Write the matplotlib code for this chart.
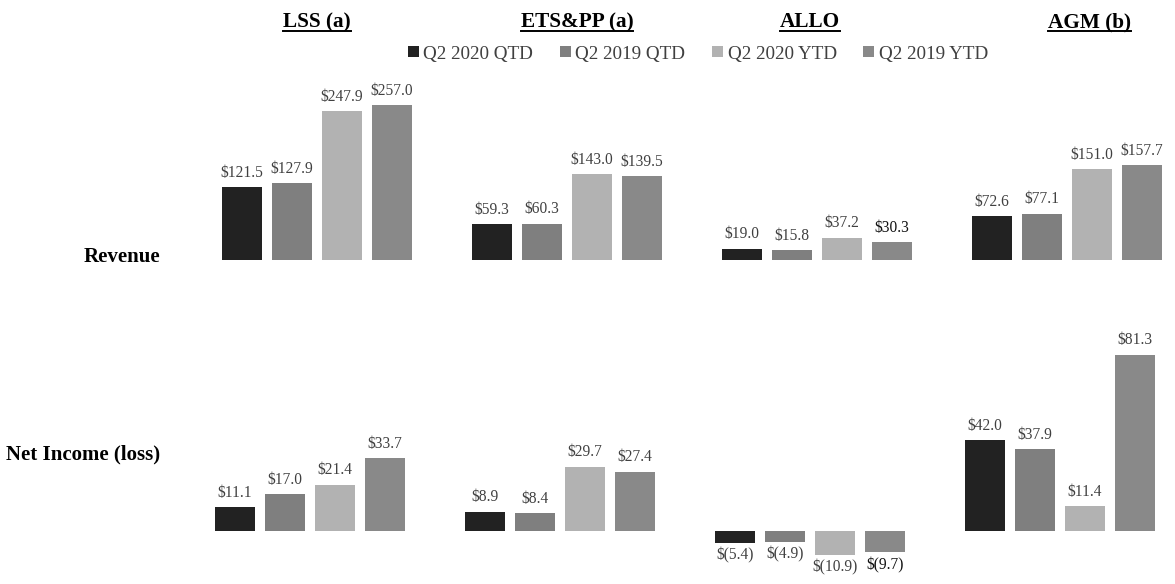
import matplotlib
matplotlib.use("Agg")
import matplotlib.pyplot as plt
from matplotlib.patches import Patch
from matplotlib.lines import Line2D

segments = ["LSS (a)", "ETS&PP (a)", "ALLO", "AGM (b)"]
series = ["Q2 2020 QTD", "Q2 2019 QTD", "Q2 2020 YTD", "Q2 2019 YTD"]
revenue = {
    "Q2 2020 QTD": [121.5, 59.3, 19.0, 72.6],
    "Q2 2019 QTD": [127.9, 60.3, 15.8, 77.1],
    "Q2 2020 YTD": [247.9, 143.0, 37.2, 151.0],
    "Q2 2019 YTD": [257.0, 139.5, 30.3, 157.7],
}
net_income = {
    "Q2 2020 QTD": [11.1, 8.9, -5.4, 42.0],
    "Q2 2019 QTD": [17.0, 8.4, -4.9, 37.9],
    "Q2 2020 YTD": [21.4, 29.7, -10.9, 11.4],
    "Q2 2019 YTD": [33.7, 27.4, -9.7, 81.3],
}
row_labels = ["Revenue", "Net Income (loss)"]

colors = ["#222222", "#7f7f7f", "#b2b2b2", "#898989"]
label_color = "#404040"
dark_labels = {("rev", 2, 3), ("ni", 2, 3)}

W, H = 1175, 584
fig = plt.figure(figsize=(W / 100, H / 100), dpi=100)
serif = ["Liberation Serif", "DejaVu Serif"]
plt.rcParams["font.family"] = serif


def make_axes(base_px, scale, ymin, ymax, first_center_px):
    bottom_px = base_px - ymin * scale
    top_px = base_px - ymax * scale
    ax = fig.add_axes([0, (H - bottom_px) / H, 1, (bottom_px - top_px) / H])
    ax.set_ylim(ymin, ymax)
    ax.set_xlim((0 - first_center_px) / 50, (W - first_center_px) / 50)
    ax.axis("off")
    return ax


def draw_row(ax, data, key):
    for s, name in enumerate(series):
        vals = data[name]
        xs = [5 * g + s for g in range(len(segments))]
        ax.bar(xs, vals, width=0.8, color=colors[s], zorder=2)
        for g, (x, v) in enumerate(zip(xs, vals)):
            txt = f"${v:.1f}" if v >= 0 else f"$({abs(v):.1f})"
            col = "#111111" if (key, g, s) in dark_labels else label_color
            if v >= 0:
                ax.annotate(txt, (x, v), xytext=(0, 4.5), textcoords="offset points",
                            ha="center", va="bottom", fontsize=11.2, color=col,
                            annotation_clip=False)
            else:
                ax.annotate(txt, (x, v), xytext=(0, -3.5), textcoords="offset points",
                            ha="center", va="top", fontsize=11.2, color=col,
                            annotation_clip=False)


ax_rev = make_axes(260, 0.602, 0, 330, 242)
draw_row(ax_rev, revenue, "rev")

ax_ni = make_axes(531, 2.17, -15, 90, 235)
draw_row(ax_ni, net_income, "ni")

# row labels
fig.text(160 / W, 1 - 257 / H, row_labels[0], ha="right", va="center",
         fontsize=15, fontweight="bold")
fig.text(160 / W, 1 - 454 / H, row_labels[1], ha="right", va="center",
         fontsize=15, fontweight="bold")

# segment titles (underlined)
title_x = [317, 577, 810, 1089]
titles = []
for name, xp in zip(segments, title_x):
    t = fig.text(xp / W, 1 - 27 / H, name, ha="center", va="baseline",
                 fontsize=15.3, fontweight="bold")
    titles.append(t)

# legend
handles = [Patch(facecolor=c, edgecolor="none") for c in colors]
leg = fig.legend(handles, series, loc="center", bbox_to_anchor=(698 / W, 1 - 54 / H),
                 ncol=4, frameon=False, fontsize=13.8, handlelength=0.55,
                 handleheight=0.55, handletextpad=0.25, columnspacing=1.4,
                 labelcolor=label_color)

fig.canvas.draw()
renderer = fig.canvas.get_renderer()
for t in titles:
    bb = t.get_window_extent(renderer)
    y = 1 - 30.5 / H
    fig.add_artist(Line2D([bb.x0 / W, bb.x1 / W], [y, y], color="black",
                          linewidth=1.4, transform=fig.transFigure))

fig.savefig("out.png", dpi=100)
